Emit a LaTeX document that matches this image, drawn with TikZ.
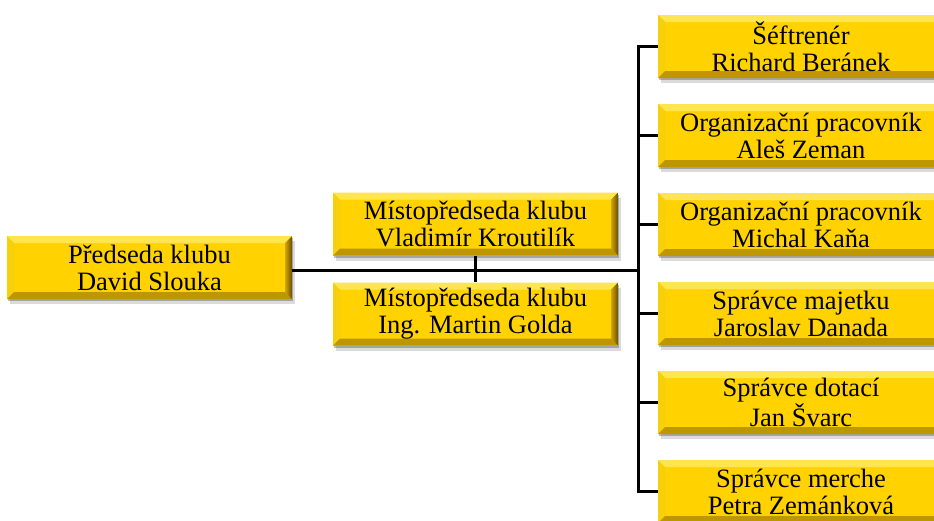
\documentclass[tikz,border=0pt]{standalone}
\usepackage{fontspec}
\setmainfont{Liberation Serif}
\usetikzlibrary{shadows}
\definecolor{face}{RGB}{255,210,0}
\definecolor{bevtopc}{RGB}{255,230,80}
\definecolor{bevleftc}{RGB}{246,208,10}
\definecolor{bevbotc}{RGB}{190,150,0}
\definecolor{bevrightA}{RGB}{210,165,0}
\definecolor{bevrightB}{RGB}{105,80,0}
\tikzset{
  bevbox/.style={rectangle, inner sep=0pt, minimum width=285pt, minimum height=63pt,
    align=center, fill=face, text=black,
    font=\fontsize{26.5}{27}\selectfont,
    drop shadow={shadow xshift=1pt, shadow yshift=-2pt, opacity=0.25, fill=black},
    drop shadow={shadow xshift=3pt, shadow yshift=-5pt, opacity=0.14, fill=black},
    path picture={
      \fill[bevtopc] (path picture bounding box.north west) -- (path picture bounding box.north east)
        -- ([shift={(-7pt,-7pt)}]path picture bounding box.north east)
        -- ([shift={(7pt,-7pt)}]path picture bounding box.north west) -- cycle;
      \fill[bevleftc] (path picture bounding box.north west) -- (path picture bounding box.south west)
        -- ([shift={(7pt,7pt)}]path picture bounding box.south west)
        -- ([shift={(7pt,-7pt)}]path picture bounding box.north west) -- cycle;
      \fill[bevbotc] (path picture bounding box.south west) -- (path picture bounding box.south east)
        -- ([shift={(-7pt,7pt)}]path picture bounding box.south east)
        -- ([shift={(7pt,7pt)}]path picture bounding box.south west) -- cycle;
      \shade[left color=bevrightA, right color=bevrightB] (path picture bounding box.north east) -- (path picture bounding box.south east)
        -- ([shift={(-7pt,7pt)}]path picture bounding box.south east)
        -- ([shift={(-7pt,-7pt)}]path picture bounding box.north east) -- cycle;
    }},
  conn/.style={draw=black, line width=3pt}
}
\begin{document}
\begin{tikzpicture}[x=1pt,y=-1pt]
\useasboundingbox (0,0) rectangle (934,520);
\clip (0,0) rectangle (934,520);
\node[bevbox] (pres) at (149.5,267.5) {Předseda klubu\\David Slouka};
\node[bevbox] (v1) at (475.5,224) {Místopředseda klubu\\Vladimír Kroutilík};
\node[bevbox] (v2) at (475.5,314) {Místopředseda klubu\\Ing. Martin Golda};
\node[bevbox, minimum width=286pt] (r1) at (801,46.5) {Šéftrenér\\Richard Beránek};
\node[bevbox, minimum width=286pt] (r2) at (801,135.5) {Organizační pracovník\\Aleš Zeman};
\node[bevbox, minimum width=286pt] (r3) at (801,224.5) {Organizační pracovník\\Michal Kaňa};
\node[bevbox, minimum width=286pt] (r4) at (801,313.5) {Správce majetku\\Jaroslav Danada};
\node[bevbox, minimum width=286pt] (r5) at (801,402.5) {Správce dotací\\Jan Švarc};
\node[bevbox, minimum width=286pt] (r6) at (801,491.5) {Správce merche\\Petra Zemánková};
\coordinate (j) at (638,270);
\draw[conn] (pres.east |- j) -- (j);
\draw[conn] (v1.south) -- (v2.north);
\draw[conn] (r1.west) -- (r1.west -| j) -- (r6.west -| j) -- (r6.west);
\draw[conn] (r2.west) -- (r2.west -| j);
\draw[conn] (r3.west) -- (r3.west -| j);
\draw[conn] (r4.west) -- (r4.west -| j);
\draw[conn] (r5.west) -- (r5.west -| j);
\end{tikzpicture}
\end{document}
